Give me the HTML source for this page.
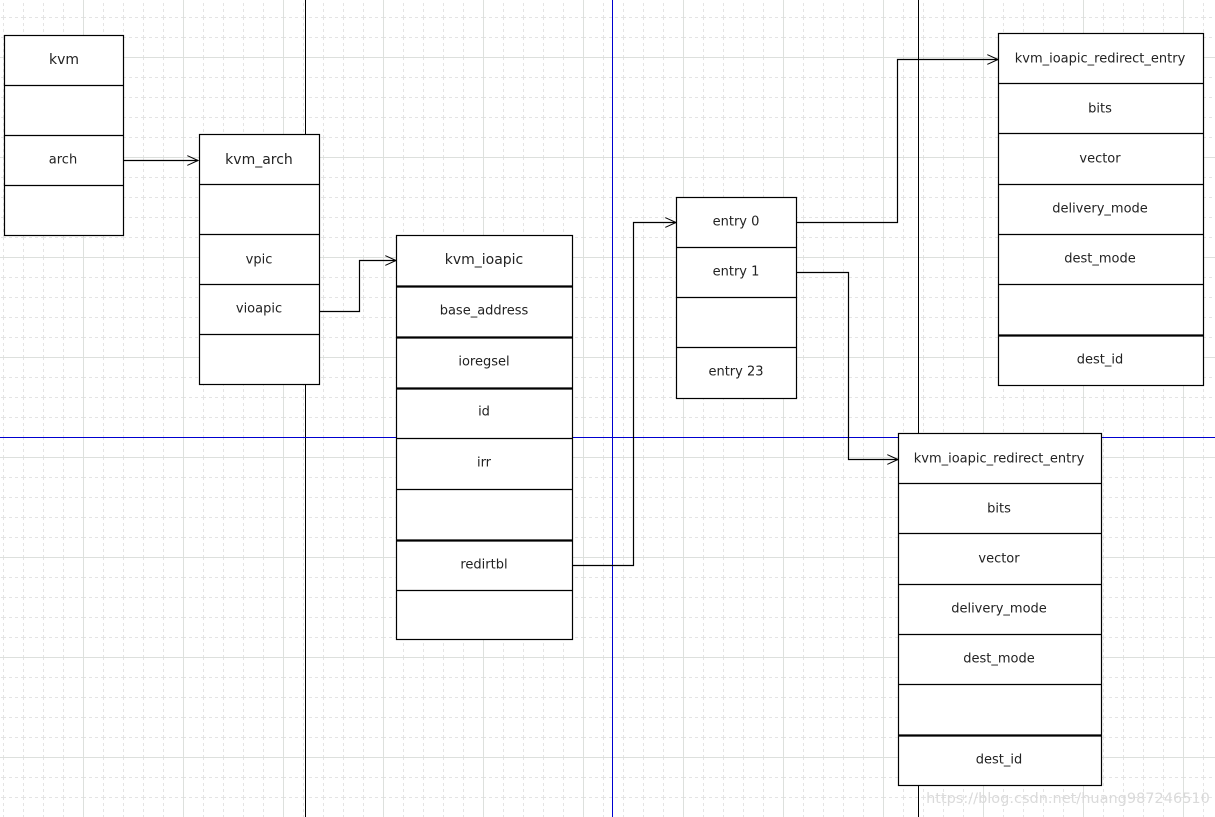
<!DOCTYPE html>
<html><head><meta charset="utf-8"><style>
html,body{margin:0;padding:0;background:#fff;width:1215px;height:817px;overflow:hidden}
svg{display:block}
text{font-family:"DejaVu Sans","Liberation Sans",sans-serif;fill:#222;text-anchor:middle;dominant-baseline:central}
</style></head><body>
<svg width="1215" height="817" xmlns="http://www.w3.org/2000/svg">
<defs>
<pattern id="minor" x="3" y="-3" width="20" height="20" patternUnits="userSpaceOnUse">
<path d="M0 0.5H20M0.5 0V20" stroke="#e4e4e4" stroke-width="1" stroke-dasharray="3 3" fill="none"/>
</pattern>
<pattern id="major" x="83" y="57" width="100" height="100" patternUnits="userSpaceOnUse">
<path d="M0 0.5H100M0.5 0V100" stroke="#dde0dd" stroke-width="1" fill="none"/>
</pattern>
<marker id="ar" markerWidth="12" markerHeight="10" refX="11" refY="5" orient="auto" markerUnits="userSpaceOnUse">
<path d="M0 0L11 5L0 10" fill="none" stroke="#000" stroke-width="1"/>
</marker>
</defs>
<rect width="1215" height="817" fill="url(#minor)"/>
<rect width="1215" height="817" fill="url(#major)"/>
<line x1="305.5" y1="0" x2="305.5" y2="817" stroke="#000"/>
<line x1="918.5" y1="0" x2="918.5" y2="817" stroke="#000"/>
<line x1="612.5" y1="0" x2="612.5" y2="817" stroke="#0000d0"/>
<line x1="0" y1="437.5" x2="1215" y2="437.5" stroke="#0000d0"/>

<g stroke="#000" fill="#fff" stroke-width="1.2">
<rect x="4.5" y="35.5" width="119" height="200"/>
<path d="M4 85.5H124M4 135.5H124M4 185.5H124"/>
<rect x="199.5" y="134.5" width="120" height="250"/>
<path d="M199 184.5H320M199 234.5H320M199 284.5H320M199 334.5H320"/>
<rect x="396.5" y="235.5" width="176" height="404"/>
<path d="M396 438.5H573M396 489.5H573M396 590.5H573"/>
<path d="M396 286.5H573M396 337.5H573M396 388.5H573M396 540.5H573" stroke-width="2.2"/>
<rect x="676.5" y="197.5" width="120" height="201"/>
<path d="M676 247.5H797M676 297.5H797M676 347.5H797"/>
<rect x="998.5" y="33.5" width="205" height="352"/>
<path d="M998 83.5H1204M998 133.5H1204M998 184.5H1204M998 234.5H1204M998 284.5H1204"/>
<path d="M998 335.5H1204" stroke-width="2.2"/>
<rect x="898.5" y="433.5" width="203" height="352"/>
<path d="M898 483.5H1102M898 533.5H1102M898 584.5H1102M898 634.5H1102M898 684.5H1102"/>
<path d="M898 735.5H1102" stroke-width="2.2"/>
</g>

<g stroke="#000" fill="none" stroke-width="1.2">
<path d="M124 160.5H198" marker-end="url(#ar)"/>
<path d="M320 311.5H359.5V260.5H396" marker-end="url(#ar)"/>
<path d="M573 565.5H633.5V222.5H676" marker-end="url(#ar)"/>
<path d="M797 222.5H897.5V59.5H998" marker-end="url(#ar)"/>
<path d="M797 272.5H848.5V459.5H898" marker-end="url(#ar)"/>
</g>

<g font-size="14">
<text x="64" y="60">kvm</text>
<text x="259" y="160">kvm_arch</text>
<text x="484" y="260">kvm_ioapic</text>
</g>
<g font-size="13">
<text x="63" y="160">arch</text>
<text x="259" y="260">vpic</text>
<text x="259" y="309">vioapic</text>
<text x="484" y="311">base_address</text>
<text x="484" y="362">ioregsel</text>
<text x="484" y="412">id</text>
<text x="484" y="463">irr</text>
<text x="484" y="565">redirtbl</text>
<text x="736" y="222">entry 0</text>
<text x="736" y="272">entry 1</text>
<text x="736" y="372">entry 23</text>
<text x="1100" y="59">kvm_ioapic_redirect_entry</text>
<text x="1100" y="109">bits</text>
<text x="1100" y="159">vector</text>
<text x="1100" y="209">delivery_mode</text>
<text x="1100" y="259">dest_mode</text>
<text x="1100" y="360">dest_id</text>
<text x="999" y="459">kvm_ioapic_redirect_entry</text>
<text x="999" y="509">bits</text>
<text x="999" y="559">vector</text>
<text x="999" y="609">delivery_mode</text>
<text x="999" y="659">dest_mode</text>
<text x="999" y="760">dest_id</text>
</g>
<text x="1068" y="799" font-size="14.5" style="fill:#dadada">https://blog.csdn.net/huang987246510</text>
</svg>
</body></html>
